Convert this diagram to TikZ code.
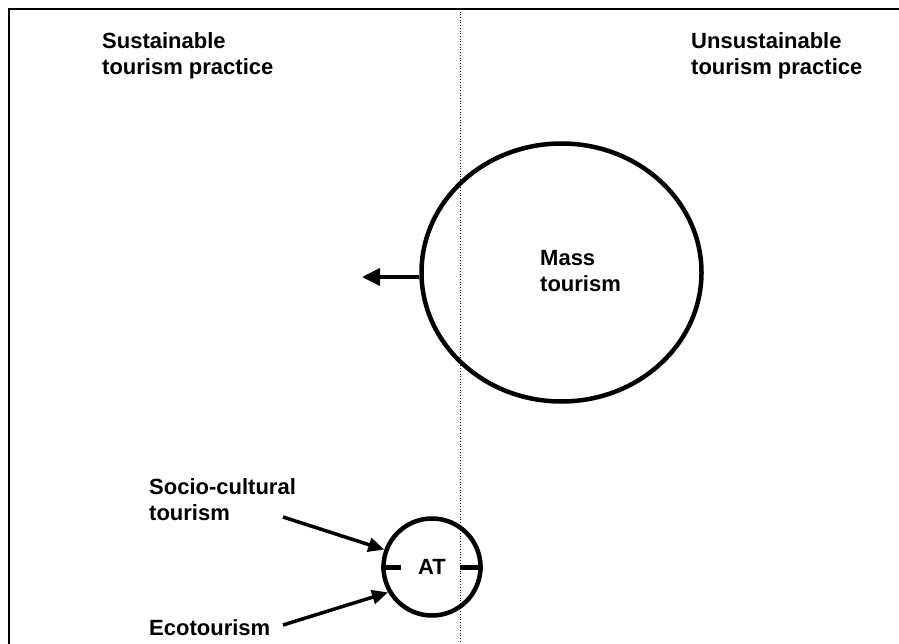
\documentclass[tikz,border=0pt]{standalone}
\usepackage{fontspec}
\setmainfont{Liberation Sans}
\usepackage{tikz}
\usetikzlibrary{arrows.meta, positioning, shapes.geometric, calc}
\definecolor{inkblack}{RGB}{0, 0, 0}

\begin{document}
\begin{tikzpicture}[x=1pt, y=-1pt,
			caption/.style={anchor=north west, inner sep=0pt, align=left, font=\fontsize{22}{26}\selectfont\bfseries, text=inkblack},
			bigring/.style={ellipse, draw=inkblack, line width=4.5pt, inner sep=0pt, minimum width=280pt, minimum height=258pt},
			smallring/.style={circle, draw=inkblack, line width=4.5pt, inner sep=0pt, minimum size=97pt, font=\fontsize{22}{26}\selectfont\bfseries},
			arrow/.style={-{Triangle[length=18pt, width=17pt]}, line width=4pt, draw=inkblack},
			feed/.style={-{Triangle[length=16pt, width=14pt]}, line width=3.5pt, draw=inkblack},
			tickline/.style={line width=5pt, draw=inkblack},
			divider/.style={draw=inkblack, line width=1pt, dash pattern=on 1pt off 1.7pt}
		]
		\useasboundingbox (0,0) rectangle (899,644);
		\draw[line width=2pt, draw=inkblack] (9,644) -- (9,9) -- (899,9);
		\draw[divider] (460,9) -- (460,644);
		
		\node[caption] (sust) at (102,32) {Sustainable\\tourism practice};
		\node[caption] (unsust) at (691,32) {Unsustainable\\tourism practice};
		
		\node[bigring] (mass) at (561.5,272.5) {};
		\node[caption] (masstxt) at (540,250) {Mass\\tourism};
		\coordinate (pull) at (362,277);
		\draw[arrow] (mass.west |- pull) -- (pull);
		
		\node[smallring] (at) at (432,567) {AT};
		\draw[tickline] (at.west) -- ++(20,0);
		\draw[tickline] (at.east) -- ++(-23,0);
		
		\node[caption] (socio) at (149,478) {Socio-cultural\\tourism};
		\node[caption] (eco) at (149,619) {Ecotourism};
		\coordinate (socioend) at (283,517);
		\coordinate (ecoend) at (283,625);
		\draw[feed] (socioend) -- (at.160);
		\draw[feed] (ecoend) -- (at.210);
		\end{tikzpicture}
\end{document}
